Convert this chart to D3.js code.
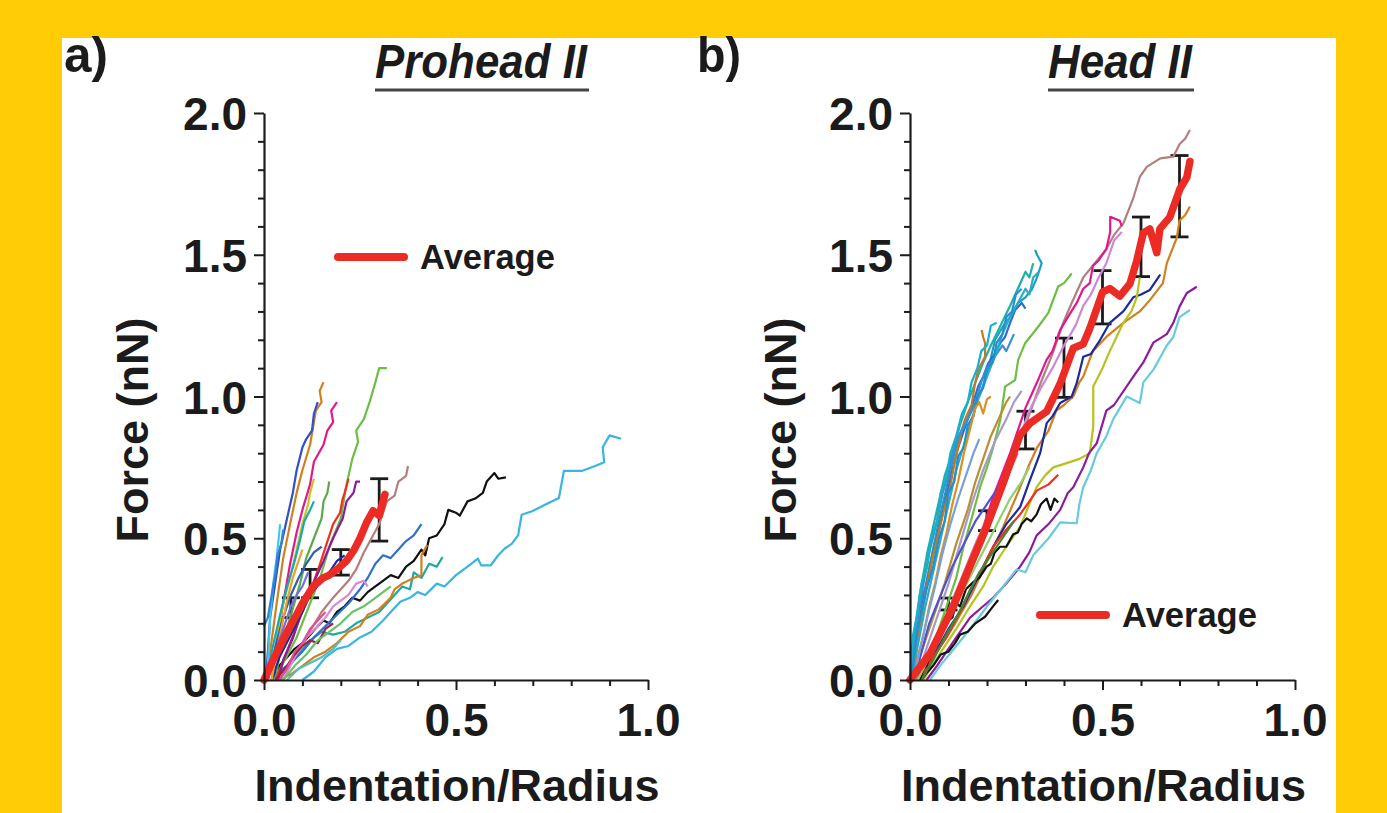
<!DOCTYPE html>
<html><head><meta charset="utf-8">
<script src="https://cdn.jsdelivr.net/npm/d3@7"></script>
<style>body{margin:0;background:#FFCC05;}svg{display:block}</style>
</head><body>
<svg id="c" width="1387" height="813"></svg>
<script>
// ---------- tick values ----------
const yMajorTicks = [0, 0.5, 1.0, 1.5, 2.0];
const yMinorTicks = [0.1,0.2,0.3,0.4,0.6,0.7,0.8,0.9,1.1,1.2,1.3,1.4,1.6,1.7,1.8,1.9];
const xMajorTicks = [0, 0.5, 1.0];
const xMinorTicks = [0.1,0.2,0.3,0.4,0.6,0.7,0.8,0.9];

// ---------- Panel a: Prohead II ----------
const proheadTraces = [
  [[0.10,0],[0.13,0.03],[0.16,0.08],[0.19,0.11],[0.22,0.12],[0.25,0.15],[0.28,0.17],[0.31,0.21],[0.33,0.24],[0.355,0.276],[0.38,0.29],[0.40,0.31],[0.42,0.30],[0.45,0.34],[0.47,0.33],[0.50,0.37],[0.53,0.40],[0.557,0.428],[0.566,0.404],[0.59,0.404],[0.61,0.44],[0.627,0.464],[0.645,0.48],[0.662,0.511],[0.671,0.583],[0.698,0.595],[0.733,0.619],[0.768,0.642],[0.781,0.738],[0.829,0.738],[0.864,0.756],[0.886,0.768],[0.882,0.821],[0.90,0.863],[0.93,0.851]],
  [[0.02,0],[0.04,0.05],[0.06,0.08],[0.08,0.11],[0.10,0.13],[0.12,0.16],[0.14,0.19],[0.155,0.21],[0.17,0.20],[0.19,0.24],[0.21,0.26],[0.23,0.29],[0.25,0.28],[0.27,0.31],[0.29,0.33],[0.30,0.34],[0.33,0.37],[0.35,0.36],[0.37,0.40],[0.39,0.42],[0.41,0.46],[0.42,0.44],[0.43,0.50],[0.45,0.51],[0.46,0.53],[0.47,0.55],[0.48,0.60],[0.50,0.59],[0.51,0.58],[0.53,0.63],[0.55,0.64],[0.57,0.66],[0.58,0.70],[0.60,0.73],[0.61,0.71],[0.63,0.715]],
  [[0.04,0],[0.06,0.04],[0.09,0.09],[0.12,0.14],[0.15,0.17],[0.18,0.16],[0.21,0.17],[0.24,0.20],[0.27,0.22],[0.30,0.24],[0.32,0.27],[0.34,0.30],[0.36,0.33],[0.38,0.32],[0.39,0.38],[0.41,0.36],[0.43,0.41],[0.45,0.40],[0.465,0.434]],
  [[0.04,0],[0.07,0.02],[0.10,0.05],[0.13,0.08],[0.16,0.10],[0.19,0.13],[0.22,0.17],[0.25,0.19],[0.27,0.23],[0.30,0.25],[0.33,0.29],[0.34,0.32],[0.36,0.34],[0.39,0.36],[0.41,0.37],[0.41,0.44],[0.425,0.476]],
  [[0.02,0],[0.04,0.03],[0.07,0.06],[0.10,0.10],[0.13,0.15],[0.16,0.19],[0.19,0.23],[0.22,0.27],[0.25,0.32],[0.27,0.36],[0.29,0.41],[0.31,0.44],[0.33,0.43],[0.35,0.46],[0.37,0.49],[0.39,0.51],[0.41,0.55]],
  [[0.04,0],[0.07,0.07],[0.11,0.15],[0.15,0.24],[0.18,0.29],[0.22,0.35],[0.24,0.39],[0.26,0.45],[0.28,0.50],[0.30,0.55],[0.32,0.63],[0.34,0.65],[0.35,0.70],[0.37,0.72],[0.375,0.755]],
  [[0.03,0],[0.05,0.06],[0.085,0.15],[0.12,0.27],[0.146,0.36],[0.17,0.47],[0.20,0.57],[0.215,0.69],[0.23,0.78],[0.245,0.84],[0.24,0.88],[0.26,0.92],[0.275,0.98],[0.29,1.05],[0.30,1.10],[0.32,1.10]],
  [[0.01,0],[0.016,0.10],[0.033,0.27],[0.05,0.43],[0.068,0.55],[0.085,0.66],[0.10,0.74],[0.12,0.83],[0.13,0.91],[0.135,0.95],[0.15,0.98],[0.145,1.02],[0.155,1.05]],
  [[0.005,0],[0.016,0.22],[0.03,0.35],[0.042,0.46],[0.06,0.57],[0.075,0.66],[0.085,0.74],[0.10,0.82],[0.11,0.85],[0.125,0.88],[0.13,0.94],[0.14,0.98]],
  [[0.02,0],[0.033,0.13],[0.05,0.27],[0.068,0.41],[0.085,0.52],[0.10,0.60],[0.12,0.69],[0.13,0.77],[0.155,0.83],[0.165,0.88],[0.18,0.91],[0.175,0.95],[0.19,0.98]],
  [[0.02,0],[0.033,0.15],[0.05,0.27],[0.068,0.36],[0.085,0.46],[0.10,0.55],[0.115,0.62],[0.12,0.66],[0.13,0.71]],
  [[0.03,0],[0.042,0.10],[0.068,0.22],[0.094,0.34],[0.11,0.43],[0.13,0.50],[0.15,0.57],[0.155,0.63],[0.165,0.66],[0.17,0.70]],
  [[0.03,0],[0.042,0.04],[0.068,0.13],[0.094,0.22],[0.12,0.31],[0.146,0.41],[0.163,0.48],[0.18,0.55],[0.198,0.59],[0.205,0.64],[0.21,0.66],[0.22,0.71]],
  [[0.037,0],[0.05,0.07],[0.076,0.15],[0.10,0.25],[0.128,0.34],[0.155,0.42],[0.18,0.50],[0.205,0.57],[0.215,0.63],[0.233,0.66],[0.24,0.70],[0.25,0.70]],
  [[0.008,0],[0.016,0.22],[0.024,0.34],[0.033,0.43],[0.042,0.55]],
  [[0.01,0],[0.02,0.10],[0.04,0.22],[0.06,0.33],[0.08,0.42],[0.095,0.50],[0.105,0.56],[0.12,0.60],[0.13,0.63]],
  [[0.05,0],[0.08,0.08],[0.11,0.15],[0.14,0.19],[0.16,0.22],[0.18,0.26],[0.20,0.28],[0.22,0.30],[0.24,0.34],[0.26,0.35],[0.27,0.33]],
  [[0.03,0],[0.06,0.05],[0.08,0.09],[0.10,0.12],[0.12,0.14],[0.14,0.13],[0.16,0.18],[0.18,0.20]],
  [[0.02,0],[0.04,0.08],[0.07,0.16],[0.10,0.24],[0.12,0.30],[0.15,0.35],[0.17,0.38],[0.19,0.42],[0.21,0.44]],
  [[0.05,0],[0.08,0.05],[0.11,0.09],[0.14,0.14],[0.17,0.17],[0.20,0.20],[0.23,0.24],[0.26,0.26],[0.29,0.29],[0.31,0.31],[0.33,0.33]],
  [[0.06,0],[0.09,0.04],[0.12,0.06],[0.15,0.08],[0.18,0.11],[0.20,0.14]],
  [[0.01,0],[0.03,0.12],[0.05,0.22],[0.07,0.30],[0.09,0.36],[0.11,0.41],[0.13,0.45],[0.15,0.47]],
  [[0.02,0],[0.03,0.08],[0.045,0.18],[0.06,0.28],[0.075,0.36],[0.09,0.42],[0.10,0.46]],
  [[0.01,0],[0.025,0.06],[0.04,0.14],[0.055,0.20],[0.07,0.26],[0.085,0.30],[0.10,0.33],[0.115,0.38]],
  [[0.04,0],[0.06,0.04],[0.08,0.10],[0.10,0.13],[0.12,0.18],[0.14,0.21],[0.16,0.24]],
  [[0.0,0.19],[0.01,0.22],[0.02,0.30],[0.03,0.38],[0.035,0.44],[0.045,0.48],[0.05,0.53]]
];
const proheadColors = ["#3AB4E2","#111111","#1FA89E","#D0801E","#2E6FD0","#B57E7E","#6CBE45","#D0801E","#3050C8","#E0188C","#C6C620","#5DA84C","#F0301E","#8B1C9B","#44C8E8","#18A8B0","#D58BD5","#A0203C","#1C2A9C","#66C466","#4FC0C0","#2E5FB0","#E8A030","#7070E0","#E05090","#2F86D6"];
const proheadAverage = [[0,0],[0.02,0.06],[0.042,0.12],[0.06,0.17],[0.085,0.23],[0.10,0.27],[0.128,0.33],[0.154,0.36],[0.17,0.37],[0.19,0.39],[0.215,0.42],[0.235,0.46],[0.25,0.50],[0.267,0.555],[0.284,0.597],[0.30,0.58],[0.315,0.655]];
const proheadErrX    = [0.07, 0.12, 0.2, 0.3];
const proheadErrLow  = [0.22, 0.29, 0.37, 0.49];
const proheadErrHigh = [0.29, 0.39, 0.46, 0.71];

// ---------- Panel b: Head II ----------
const headTraces = [
  [[0.017,0],[0.06,0.10],[0.10,0.22],[0.15,0.36],[0.20,0.52],[0.25,0.70],[0.30,0.90],[0.34,1.05],[0.37,1.15],[0.398,1.26],[0.42,1.33],[0.45,1.42],[0.48,1.47],[0.51,1.52],[0.53,1.57],[0.554,1.61],[0.58,1.70],[0.597,1.775],[0.615,1.81],[0.65,1.84],[0.684,1.846],[0.70,1.89],[0.715,1.91],[0.727,1.94]],
  [[0.017,0],[0.05,0.10],[0.095,0.22],[0.14,0.36],[0.18,0.50],[0.22,0.66],[0.26,0.80],[0.30,0.96],[0.33,1.05],[0.355,1.13],[0.37,1.16],[0.39,1.235],[0.41,1.28],[0.433,1.33],[0.45,1.38],[0.467,1.40],[0.475,1.46],[0.49,1.48],[0.51,1.52],[0.52,1.58],[0.52,1.634],[0.545,1.62],[0.55,1.60]],
  [[0.02,0],[0.06,0.10],[0.10,0.22],[0.15,0.36],[0.19,0.50],[0.23,0.64],[0.27,0.80],[0.31,0.95],[0.34,1.03],[0.37,1.10],[0.40,1.18],[0.43,1.25],[0.45,1.32],[0.47,1.36],[0.49,1.42],[0.51,1.47],[0.53,1.55],[0.55,1.58]],
  [[0.026,0],[0.07,0.10],[0.113,0.19],[0.16,0.30],[0.20,0.42],[0.242,0.54],[0.28,0.66],[0.31,0.76],[0.33,0.82],[0.36,0.88],[0.38,0.95],[0.40,0.97],[0.424,1.0],[0.44,1.05],[0.45,1.07],[0.475,1.16],[0.51,1.21],[0.554,1.26],[0.597,1.30],[0.623,1.34],[0.657,1.40],[0.667,1.47],[0.693,1.56],[0.70,1.62],[0.715,1.64],[0.727,1.67]],
  [[0.026,0],[0.052,0.066],[0.10,0.18],[0.139,0.26],[0.18,0.37],[0.216,0.47],[0.25,0.55],[0.286,0.61],[0.31,0.70],[0.338,0.80],[0.355,0.906],[0.37,0.93],[0.39,0.977],[0.42,1.0],[0.433,1.047],[0.45,1.14],[0.47,1.15],[0.494,1.20],[0.519,1.26],[0.554,1.30],[0.58,1.35],[0.60,1.36],[0.623,1.376],[0.65,1.43]],
  [[0.035,0],[0.078,0.094],[0.12,0.18],[0.156,0.26],[0.19,0.33],[0.216,0.40],[0.25,0.47],[0.286,0.54],[0.31,0.62],[0.329,0.68],[0.35,0.72],[0.372,0.75],[0.407,0.765],[0.44,0.78],[0.467,0.80],[0.476,0.894],[0.476,1.035],[0.50,1.10],[0.519,1.16],[0.554,1.26],[0.575,1.30],[0.589,1.35],[0.597,1.42]],
  [[0.043,0],[0.07,0.05],[0.113,0.136],[0.156,0.22],[0.19,0.26],[0.216,0.29],[0.25,0.34],[0.286,0.40],[0.31,0.45],[0.329,0.51],[0.36,0.55],[0.39,0.60],[0.41,0.66],[0.424,0.68],[0.45,0.75],[0.465,0.80],[0.485,0.835],[0.51,0.95],[0.53,0.97],[0.545,1.0],[0.58,1.07],[0.606,1.12],[0.632,1.19],[0.667,1.22],[0.684,1.26],[0.70,1.317],[0.719,1.365],[0.745,1.387]],
  [[0.052,0],[0.078,0.05],[0.12,0.12],[0.156,0.18],[0.20,0.26],[0.242,0.33],[0.277,0.39],[0.30,0.38],[0.32,0.44],[0.36,0.50],[0.39,0.556],[0.433,0.553],[0.44,0.62],[0.45,0.68],[0.47,0.74],[0.485,0.80],[0.51,0.86],[0.528,0.92],[0.563,1.0],[0.597,0.977],[0.606,1.05],[0.632,1.094],[0.667,1.18],[0.684,1.21],[0.70,1.28],[0.727,1.305]],
  [[0.026,0],[0.06,0.08],[0.095,0.15],[0.13,0.24],[0.156,0.318],[0.19,0.40],[0.216,0.47],[0.25,0.53],[0.286,0.584],[0.31,0.63],[0.329,0.668],[0.36,0.69],[0.385,0.724]],
  [[0.026,0],[0.035,0.04],[0.043,0.05],[0.055,0.10],[0.07,0.12],[0.08,0.18],[0.095,0.206],[0.11,0.22],[0.12,0.27],[0.13,0.26],[0.145,0.32],[0.165,0.346],[0.18,0.36],[0.199,0.40],[0.21,0.41],[0.22,0.45],[0.234,0.47],[0.25,0.47],[0.268,0.514],[0.28,0.52],[0.29,0.55],[0.303,0.57],[0.315,0.56],[0.329,0.584],[0.34,0.62],[0.355,0.64],[0.365,0.60],[0.375,0.64],[0.385,0.626]],
  [[0.03,0],[0.04,0.02],[0.06,0.05],[0.08,0.09],[0.10,0.10],[0.117,0.13],[0.13,0.16],[0.15,0.17],[0.17,0.20],[0.195,0.223],[0.21,0.25],[0.229,0.282]],
  [[0,0],[0.004,0.094],[0.015,0.18],[0.026,0.26],[0.04,0.33],[0.061,0.47],[0.075,0.56],[0.095,0.68],[0.11,0.77],[0.117,0.81],[0.134,0.88],[0.16,0.95],[0.186,1.023],[0.203,1.094],[0.221,1.20],[0.247,1.26],[0.26,1.28],[0.281,1.33],[0.30,1.35],[0.316,1.376],[0.33,1.42],[0.342,1.47],[0.33,1.50],[0.325,1.517]],
  [[0.005,0],[0.015,0.12],[0.03,0.25],[0.05,0.38],[0.07,0.50],[0.09,0.62],[0.11,0.74],[0.125,0.82],[0.14,0.88],[0.16,0.96],[0.177,1.035],[0.19,1.07],[0.203,1.117],[0.22,1.15],[0.235,1.19],[0.247,1.21],[0.26,1.26],[0.273,1.305],[0.29,1.33],[0.30,1.31]],
  [[0.002,0],[0.01,0.15],[0.025,0.30],[0.045,0.45],[0.07,0.60],[0.09,0.72],[0.11,0.80],[0.13,0.90],[0.15,0.98],[0.17,1.05],[0.19,1.12],[0.21,1.18],[0.235,1.25],[0.26,1.32],[0.28,1.38],[0.30,1.44],[0.31,1.42],[0.32,1.47]],
  [[0.017,0],[0.043,0.08],[0.07,0.16],[0.095,0.26],[0.12,0.36],[0.139,0.47],[0.16,0.57],[0.182,0.68],[0.20,0.75],[0.216,0.82],[0.235,0.92],[0.247,1.035],[0.273,1.058],[0.281,1.129],[0.299,1.188],[0.333,1.246],[0.359,1.294],[0.385,1.388],[0.40,1.40],[0.42,1.434]],
  [[0.009,0],[0.017,0.12],[0.03,0.22],[0.043,0.33],[0.06,0.44],[0.078,0.54],[0.09,0.61],[0.104,0.68],[0.115,0.76],[0.13,0.85],[0.134,0.88],[0.143,0.92],[0.16,0.97],[0.169,1.047],[0.177,1.094],[0.195,1.14],[0.195,1.188],[0.19,1.21],[0.186,1.235]],
  [[0.003,0],[0.01,0.10],[0.02,0.22],[0.035,0.34],[0.05,0.45],[0.07,0.56],[0.085,0.66],[0.10,0.73],[0.115,0.82],[0.13,0.87],[0.15,0.92],[0.17,0.98],[0.185,1.05],[0.20,1.10],[0.22,1.14],[0.24,1.18],[0.25,1.16],[0.27,1.22]],
  [[0.005,0],[0.02,0.12],[0.04,0.26],[0.06,0.38],[0.08,0.50],[0.10,0.62],[0.12,0.74],[0.14,0.83],[0.16,0.92],[0.18,1.0],[0.20,1.07],[0.22,1.14],[0.24,1.22],[0.26,1.28],[0.28,1.33],[0.30,1.38],[0.31,1.36],[0.32,1.42],[0.335,1.44]],
  [[0.01,0],[0.03,0.10],[0.06,0.22],[0.09,0.34],[0.12,0.48],[0.15,0.60],[0.17,0.70],[0.19,0.78],[0.21,0.86],[0.23,0.92],[0.25,0.98],[0.26,1.0]],
  [[0.015,0],[0.04,0.10],[0.07,0.22],[0.10,0.34],[0.13,0.48],[0.16,0.62],[0.19,0.74],[0.22,0.84],[0.25,0.92],[0.27,0.98],[0.29,1.02]],
  [[0.02,0],[0.05,0.09],[0.08,0.18],[0.11,0.28],[0.14,0.38],[0.17,0.48],[0.20,0.57],[0.23,0.66],[0.26,0.74],[0.28,0.80]],
  [[0.02,0],[0.04,0.06],[0.06,0.12],[0.08,0.18],[0.10,0.22],[0.12,0.28],[0.14,0.32]],
  [[0.01,0],[0.03,0.10],[0.05,0.20],[0.08,0.30],[0.11,0.40],[0.14,0.48],[0.17,0.56],[0.20,0.62],[0.23,0.68]],
  [[0.02,0],[0.05,0.08],[0.08,0.16],[0.11,0.24],[0.14,0.32],[0.17,0.40],[0.20,0.48],[0.23,0.56],[0.26,0.64],[0.29,0.70],[0.31,0.75]],
  [[0.03,0],[0.06,0.07],[0.09,0.15],[0.12,0.22],[0.15,0.30],[0.18,0.38],[0.21,0.44],[0.24,0.50],[0.27,0.56]],
  [[0.004,0],[0.012,0.1],[0.02,0.18],[0.03,0.24],[0.045,0.33],[0.06,0.40],[0.075,0.50],[0.09,0.56],[0.10,0.66],[0.115,0.70],[0.125,0.79],[0.14,0.82],[0.15,0.90],[0.165,0.93],[0.175,1.00],[0.19,1.03],[0.20,1.10],[0.215,1.12],[0.225,1.19],[0.24,1.22],[0.25,1.28],[0.265,1.30],[0.275,1.36],[0.29,1.38]],
  [[0.002,0.05],[0.008,0.16],[0.02,0.24],[0.03,0.34],[0.045,0.40],[0.055,0.50],[0.07,0.56],[0.08,0.66],[0.095,0.72],[0.105,0.80],[0.12,0.86],[0.135,0.94],[0.15,0.98],[0.16,1.05],[0.175,1.10],[0.185,1.16],[0.20,1.18],[0.21,1.25],[0.225,1.26]],
  [[0.01,0],[0.02,0.08],[0.035,0.16],[0.05,0.26],[0.065,0.34],[0.08,0.44],[0.095,0.52],[0.11,0.62],[0.125,0.70],[0.14,0.80],[0.155,0.88],[0.17,0.96],[0.18,0.98],[0.19,0.94],[0.20,0.99],[0.21,1.00]],
  [[0.01,0],[0.025,0.10],[0.045,0.22],[0.065,0.33],[0.085,0.45],[0.105,0.55],[0.125,0.64],[0.145,0.72],[0.165,0.80],[0.18,0.85]]
];
const headColors = ["#B57E7E","#E0188C","#CC88D8","#D0801E","#1C2A9C","#B8C21E","#8B1C9B","#66CCDD","#F0301E","#111111","#111111","#1A9FC0","#2C6FD0","#20B0A8","#6CBE45","#C87820","#3B8FD8","#30A8C8","#B89030","#A898C8","#E070A0","#A0203C","#5050D0","#90D070","#3A8A3A","#2090D0","#18B0C8","#D89020","#7AA0D8"];
const headAverage = [[0,0],[0.052,0.093],[0.113,0.261],[0.156,0.402],[0.199,0.541],[0.242,0.695],[0.286,0.864],[0.312,0.906],[0.355,0.947],[0.39,1.045],[0.424,1.17],[0.45,1.185],[0.467,1.24],[0.50,1.368],[0.519,1.381],[0.545,1.354],[0.571,1.397],[0.589,1.479],[0.606,1.577],[0.623,1.591],[0.641,1.507],[0.649,1.591],[0.675,1.633],[0.701,1.732],[0.719,1.773],[0.727,1.829]];
const headErrX    = [0.1, 0.2, 0.3, 0.4, 0.5, 0.6, 0.7];
const headErrLow  = [0.247, 0.527, 0.815, 0.997, 1.256, 1.423, 1.563];
const headErrHigh = [0.289, 0.597, 0.948, 1.206, 1.444, 1.633, 1.85];

// ---------- drawing ----------
const FONT = "'Liberation Sans', Arial, Helvetica, sans-serif";
const INK = "#1b1b1b";
const svg = d3.select('#c');
svg.append('rect').attr('width',1387).attr('height',813).attr('fill','#FFCC05');
svg.append('rect').attr('x',62).attr('y',38).attr('width',1274).attr('height',775).attr('fill','#ffffff');

function panel(o){
  const x = d3.scaleLinear().domain([0,1]).range([o.x0, o.x1]);
  const y = d3.scaleLinear().domain([0,2]).range([680, 113]);
  const g = svg.append('g');
  const line = d3.line().x(d=>x(d[0])).y(d=>y(d[1]));

  // error bars (beneath the traces, as in the source figure)
  const eb = g.append('g').attr('stroke', INK).attr('stroke-width', 2.8);
  o.errX.forEach((ex,i)=>{
    eb.append('line').attr('x1',x(ex)).attr('x2',x(ex)).attr('y1',y(o.errLow[i])).attr('y2',y(o.errHigh[i]));
    [o.errLow[i], o.errHigh[i]].forEach(v=>{
      eb.append('line').attr('x1',x(ex)-9).attr('x2',x(ex)+9).attr('y1',y(v)).attr('y2',y(v));
    });
  });

  // traces
  g.append('g').selectAll('path').data(o.traces).join('path')
    .attr('d', line).attr('fill','none')
    .attr('stroke', (d,i)=>o.colors[i % o.colors.length])
    .attr('stroke-width', 2.2).attr('stroke-linejoin','round');

  // average
  g.append('path').attr('d', line(o.avg)).attr('fill','none')
    .attr('stroke','#EC2B24').attr('stroke-width',7.5)
    .attr('stroke-linejoin','round').attr('stroke-linecap','round');

  // axes
  const fmt = d3.format('.1f');
  const yAx = g.append('g').attr('transform',`translate(${x(0)},0)`)
    .call(d3.axisLeft(y).tickValues(yMajorTicks).tickSize(10).tickSizeOuter(0).tickPadding(7).tickFormat(fmt));
  const yMin = g.append('g').attr('transform',`translate(${x(0)},0)`)
    .call(d3.axisLeft(y).tickValues(yMinorTicks).tickSize(6).tickFormat(''));
  yMin.select('.domain').remove();
  const xAx = g.append('g').attr('transform',`translate(0,${y(0)})`)
    .call(d3.axisBottom(x).tickValues(xMajorTicks).tickSize(10).tickSizeOuter(0).tickPadding(13).tickFormat(fmt));
  const xMin = g.append('g').attr('transform',`translate(0,${y(0)})`)
    .call(d3.axisBottom(x).tickValues(xMinorTicks).tickSize(6).tickFormat(''));
  xMin.select('.domain').remove();
  [yAx,yMin,xAx,xMin].forEach(a=>{
    a.selectAll('.domain').attr('stroke',INK).attr('stroke-width',2.2);
    a.selectAll('.tick line').attr('stroke',INK).attr('stroke-width',2);
    a.selectAll('text').attr('font-family',FONT).attr('font-weight','bold').attr('font-size',46).attr('fill',INK);
  });
  yAx.selectAll('text').attr('dy','0.36em');

  // axis titles
  g.append('text').attr('transform',`translate(${o.yTitleX},430) rotate(-90)`)
    .attr('text-anchor','middle').attr('font-family',FONT).attr('font-weight','bold')
    .attr('font-size',45).attr('fill',INK).text('Force (nN)');
  g.append('text').attr('x',(x(0)+x(1))/2+1).attr('y',801)
    .attr('text-anchor','middle').attr('font-family',FONT).attr('font-weight','bold')
    .attr('font-size',45).attr('fill',INK).text('Indentation/Radius');

  // panel letter and title
  g.append('text').attr('x',o.letterX).attr('y',72).attr('font-family',FONT).attr('font-weight','bold')
    .attr('font-size',50).attr('fill',INK).attr('textLength',44).attr('lengthAdjust','spacingAndGlyphs').text(o.letter);
  g.append('text').attr('x',o.titleX).attr('y',78).attr('text-anchor','middle')
    .attr('font-family',FONT).attr('font-weight','bold').attr('font-style','italic')
    .attr('font-size',48).attr('fill',INK).attr('textLength',o.titleW).attr('lengthAdjust','spacingAndGlyphs').text(o.title);
  g.append('line').attr('x1',o.titleX-o.titleW/2).attr('x2',o.titleX+o.titleW/2+2)
    .attr('y1',90).attr('y2',90).attr('stroke','#444').attr('stroke-width',3.2);

  // legend
  g.append('line').attr('x1',o.legX).attr('x2',o.legX+66).attr('y1',o.legY).attr('y2',o.legY)
    .attr('stroke','#EC2B24').attr('stroke-width',8).attr('stroke-linecap','round');
  g.append('text').attr('x',o.legX+82).attr('y',o.legY+12).attr('font-family',FONT).attr('font-weight','bold')
    .attr('font-size',34.5).attr('fill',INK).text('Average');
}

panel({x0:264, x1:648, traces:proheadTraces, colors:proheadColors, avg:proheadAverage,
  errX:proheadErrX, errLow:proheadErrLow, errHigh:proheadErrHigh,
  yTitleX:148, letter:'a)', letterX:64, title:'Prohead II', titleX:481, titleW:212, legX:338, legY:257});
panel({x0:910, x1:1295, traces:headTraces, colors:headColors, avg:headAverage,
  errX:headErrX, errLow:headErrLow, errHigh:headErrHigh,
  yTitleX:796, letter:'b)', letterX:697, title:'Head II', titleX:1120, titleW:144, legX:1040, legY:615});
</script>
</body></html>
